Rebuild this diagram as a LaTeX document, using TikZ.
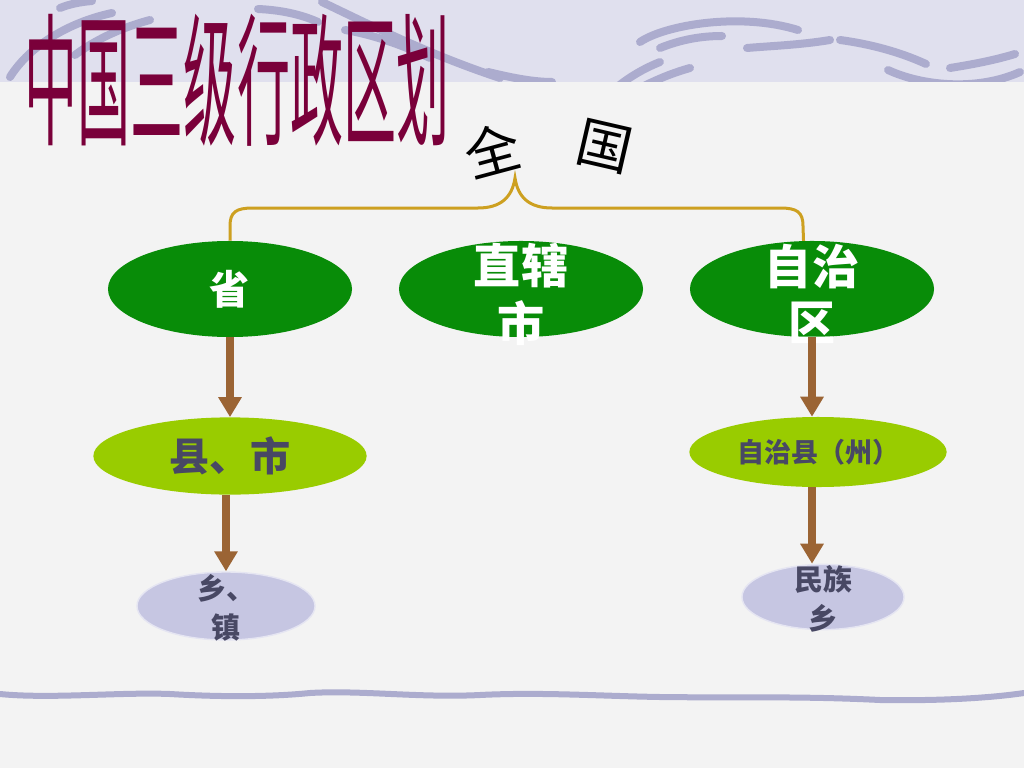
\documentclass[tikz,border=0pt]{standalone}
\usepackage{fontspec}
\newfontfamily\cjk{Noto Sans CJK SC}
\usetikzlibrary{arrows.meta, shapes.geometric}

\definecolor{leafgreen}{RGB}{8,140,8}
\definecolor{limegreen}{RGB}{153,204,0}
\definecolor{lilac}{RGB}{198,198,226}
\definecolor{slate}{RGB}{72,72,100}
\definecolor{barkbrown}{RGB}{155,100,52}
\definecolor{bracegold}{RGB}{205,160,32}
\definecolor{titlered}{RGB}{122,0,58}
\definecolor{paper}{RGB}{243,243,243}
\definecolor{band}{RGB}{224,224,238}
\definecolor{wave}{RGB}{172,172,206}

\newcommand{\ovaltwo}[2]{\smash{\raisebox{-0.43em}{\begin{tabular}[c]{@{}c@{}}#1\\#2\end{tabular}}}}

\tikzset{
  topoval/.style={shape=ellipse, fill=leafgreen, text=white, inner sep=0pt,
    minimum width=6.1cm, minimum height=2.4cm},
  midoval/.style={shape=ellipse, fill=limegreen, text=slate, inner sep=0pt},
  lowoval/.style={shape=ellipse, fill=lilac, draw=lilac!45!white, line width=1pt,
    text=slate, inner sep=0pt},
  downarrow/.style={draw=barkbrown, line width=0.2cm,
    -{Triangle[width=0.56cm,length=0.5cm]}},
  bandwave/.style={draw=wave, line width=0.2cm, line cap=round},
}

\begin{document}
\begin{tikzpicture}[x=0.025cm, y=-0.025cm]
    \useasboundingbox (0,0) rectangle (1024,768);
    \fill[paper] (0,0) rectangle (1024,768);
    \fill[band] (0,0) rectangle (1024,82);

    % strokes in the top band
    \begin{scope}
    \clip (0,0) rectangle (1024,82);
    \draw[bandwave] (10,77) .. controls (30,45) and (70,22) .. (112,13);
    \draw[bandwave] (60,8) .. controls (70,4) and (80,2) .. (92,1);
    \draw[bandwave] (75,55) .. controls (95,40) and (120,28) .. (150,20);
    \draw[bandwave] (258,9) .. controls (280,10) and (300,14) .. (318,22);
    \draw[bandwave] (322,2) .. controls (370,25) and (430,55) .. (500,78);
    \draw[bandwave] (345,30) .. controls (370,34) and (400,44) .. (430,58);
    \draw[bandwave] (488,72) .. controls (505,76) and (530,82) .. (552,82);
    \draw[bandwave] (611,92) .. controls (625,80) and (640,70) .. (660,62);
    \draw[bandwave] (625,96) .. controls (645,85) and (665,75) .. (690,68);
    \draw[bandwave] (640,42) .. controls (665,25) and (740,12) .. (798,30);
    \draw[bandwave] (660,48) .. controls (680,40) and (700,36) .. (722,36);
    \draw[bandwave] (747,48) .. controls (770,46) and (800,45) .. (830,40);
    \draw[bandwave] (840,40) .. controls (870,44) and (900,52) .. (926,64);
    \draw[bandwave] (888,70) .. controls (920,85) and (975,92) .. (1020,72);
    \draw[bandwave] (950,68) .. controls (975,64) and (995,60) .. (1015,54);
    \end{scope}

    % line at the bottom
    \draw[bandwave, line width=0.15cm] (0,694) .. controls (50,699) and (120,692) .. (170,694)
      .. controls (220,697) and (270,697) .. (310,693) .. controls (360,690) and (420,698) .. (480,695)
      .. controls (540,692) and (600,696) .. (660,697) .. controls (740,698) and (800,696) .. (880,700)
      .. controls (940,701) and (990,698) .. (1024,693);

    \node[text=titlered, font=\cjk\fontsize{37.7pt}{37.7pt}\selectfont] (title) at (237,80)
      {\scalebox{1}[2.7]{中国三级行政区划}};

    \node[font=\cjk\fontsize{39pt}{39pt}\selectfont, rotate=15] (quan) at (492,150) {全};
    \node[font=\cjk\fontsize{39pt}{39pt}\selectfont, rotate=-13] (guo) at (605,147) {国};

    \node[topoval, font=\cjk\bfseries\fontsize{28.5pt}{28.5pt}\selectfont] (sheng) at (230,289) {省};
    \node[topoval, font=\cjk\bfseries\fontsize{33.5pt}{40pt}\selectfont] (zxs) at (521,289) {\ovaltwo{直辖}{市}};
    \node[topoval, font=\cjk\bfseries\fontsize{33.5pt}{40pt}\selectfont] (zzq) at (812,289) {\ovaltwo{自治}{区}};

    \coordinate (bracetip) at (515,178);
    \draw[draw=bracegold, line width=0.075cm] (sheng.north) -- (230,226)
      .. controls (230,212) and (236,208) .. (253,208) -- (478,208)
      .. controls (500,208) and (512,198) .. (bracetip)
      .. controls (518,198) and (530,208) .. (552,208) -- (780,208)
      .. controls (797,208) and (803,212) .. (803,226) -- (zzq.100);

    \node[midoval, minimum width=6.83cm, minimum height=1.93cm,
      font=\cjk\bfseries\fontsize{28.5pt}{28.5pt}\selectfont] (xianshi) at (230,456) {县、市};
    \draw[downarrow] (sheng.south) -- (xianshi.north);
    \node[midoval, minimum width=6.43cm, minimum height=1.75cm,
      font=\cjk\bfseries\fontsize{19.2pt}{19.2pt}\selectfont] (zzx) at (818,452) {自治县（州）};
    \draw[downarrow] (zzq.south) -- (zzq.south |- zzx.north);

    \node[lowoval, minimum width=4.45cm, minimum height=1.7cm,
      font=\cjk\bfseries\fontsize{20.6pt}{27.7pt}\selectfont] (xiang) at (226,606) {\ovaltwo{乡、}{镇}};
    \draw[downarrow] (xiang.north |- xianshi.south) -- (xiang.north);
    \node[lowoval, minimum width=4.05cm, minimum height=1.63cm,
      font=\cjk\bfseries\fontsize{20.6pt}{27.7pt}\selectfont] (mzx) at (823,597) {\ovaltwo{民族}{乡}};
    \draw[downarrow] (zzq.south |- zzx.south) -- (zzq.south |- mzx.north);

  \end{tikzpicture}
\end{document}
